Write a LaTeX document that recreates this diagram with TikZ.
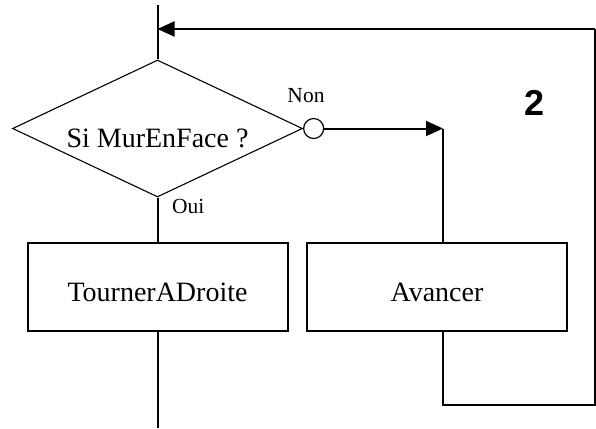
\documentclass[tikz,border=0pt]{standalone}
\usepackage{fontspec}
\setmainfont{Liberation Serif}
\newfontfamily\digitfont{Liberation Sans}
\usetikzlibrary{shapes.geometric,arrows.meta}

\tikzset{
  flow/.style={line width=2pt, draw=black},
  tip/.style={-{Triangle[length=17pt,width=15pt]}},
  decision/.style={diamond, draw, line width=1.1pt, inner sep=0pt,
    aspect=2.117, minimum width=290pt, minimum height=137pt,
    font=\fontsize{28}{30}\selectfont, text height=40pt, text depth=3pt},
  action/.style={rectangle, draw, line width=2pt, inner sep=0pt,
    minimum width=260pt, minimum height=88pt,
    font=\fontsize{28}{30}\selectfont, text height=31pt, text depth=3pt},
  joint/.style={circle, draw, line width=1.2pt, inner sep=0pt, minimum size=20pt},
  branch/.style={font=\fontsize{21.5}{23}\selectfont},
}

\begin{document}
\begin{tikzpicture}[x=1pt, y=-1pt]
  \useasboundingbox (0,0) rectangle (596,428);

  % decision and actions
  \node[decision] (test) at (157.5,128.5) {Si MurEnFace ?};
  \node[joint, anchor=west] (non) at (test.east) {};
  \node[action] (turn) at (157.5,287) {TournerADroite};
  \node[action] (move) at (437,287) {Avancer};

  % free ends and bends of the connectors
  \coordinate (entry) at (157.5,5);
  \coordinate (join)  at (157.5,29);
  \coordinate (exit)  at (157.5,428);
  \coordinate (bend)  at (443,128.5);
  \coordinate (low)   at (443,405);
  \coordinate (lowR)  at (595,405);
  \coordinate (topR)  at (595,29);

  % main path
  \draw[flow] (entry) -- (test.north);
  \draw[flow] (test.south) -- (turn.north);
  \draw[flow] (turn.south) -- (exit);

  % "Non" branch and loop back
  \draw[flow, tip] (non.east) -- (bend);
  \draw[flow] (bend) -- (bend |- move.north);
  \draw[flow] (move.south -| bend) -- (low) -- (lowR) -- (topR);
  \draw[flow, tip] (topR) -- (join);

  % branch labels
  \node[branch, anchor=base] (lnon) at (306,102) {Non};
  \node[branch, anchor=base west, inner sep=0pt] (loui) at (172,213) {Oui};

  % loop number
  \node[anchor=base, inner sep=0pt] (num) at (535,115)
    {\digitfont\bfseries\fontsize{36}{38}\selectfont 2};
\end{tikzpicture}
\end{document}
